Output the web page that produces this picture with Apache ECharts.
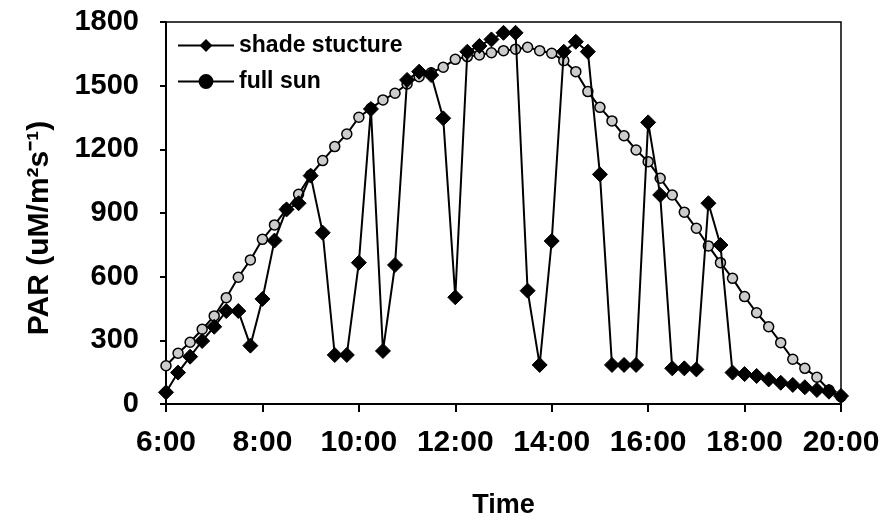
<!DOCTYPE html>
<html>
<head>
<meta charset="utf-8">
<script src="https://cdn.jsdelivr.net/npm/echarts@6/dist/echarts.min.js"></script>
<style>html,body{margin:0;padding:0;background:#fff}#c{width:885px;height:528px}</style>
</head>
<body>
<div id="c"></div>
<script>
const times = ["6:00","6:15","6:30","6:45","7:00","7:15","7:30","7:45","8:00","8:15","8:30","8:45",
"9:00","9:15","9:30","9:45","10:00","10:15","10:30","10:45","11:00","11:15","11:30","11:45",
"12:00","12:15","12:30","12:45","13:00","13:15","13:30","13:45","14:00","14:15","14:30","14:45",
"15:00","15:15","15:30","15:45","16:00","16:15","16:30","16:45","17:00","17:15","17:30","17:45",
"18:00","18:15","18:30","18:45","19:00","19:15","19:30","19:45","20:00"];
const shadeStructure = [55,148,223,297,364,438,438,275,495,770,917,946,
1076,807,231,231,666,1390,250,655,1527,1566,1550,1346,
503,1660,1687,1718,1749,1749,534,184,768,1660,1707,1660,
1082,184,184,184,1327,985,168,168,163,946,749,148,
141,132,116,100,90,79,66,58,38];
const fullSun = [180,239,291,352,415,501,597,679,776,844,918,988,
1079,1147,1213,1272,1351,1393,1433,1464,1508,1542,1561,1587,
1624,1637,1645,1655,1665,1672,1681,1665,1653,1618,1566,1472,
1398,1334,1264,1197,1142,1064,985,904,828,745,666,592,
506,430,364,289,211,168,126,66,34];
const yTicks = {min:0, max:1800, interval:300};

const font = 'Liberation Sans, Arial, sans-serif';
const chart = echarts.init(document.getElementById('c'));
chart.setOption({
  backgroundColor:'#fff',
  animation:false,
  grid:{left:166, right:44, top:22, bottom:124, show:true, borderColor:'#000', borderWidth:1.5},
  legend:{
    orient:'vertical', left:172, top:29, itemWidth:56, itemHeight:16, itemGap:13,
    textStyle:{fontFamily:font, fontWeight:'bold', fontSize:23, color:'#000'},
    data:[{name:'shade stucture'},{name:'full sun', itemStyle:{color:'#000'}}]
  },
  xAxis:{
    type:'category', data:times, boundaryGap:false,
    name:'Time', nameLocation:'middle', nameGap:88,
    nameTextStyle:{fontFamily:font, fontWeight:'bold', fontSize:27, color:'#000'},
    axisLine:{lineStyle:{color:'#000', width:2}},
    axisTick:{show:true, interval:7, length:8, inside:false, lineStyle:{color:'#000', width:2}},
    axisLabel:{interval:7, margin:24, fontFamily:font, fontWeight:'bold', fontSize:30, color:'#000'},
    splitLine:{show:false}
  },
  yAxis:{
    type:'value', min:yTicks.min, max:yTicks.max, interval:yTicks.interval,
    name:'PAR (uM/m²s⁻¹)', nameLocation:'middle', nameGap:111,
    nameTextStyle:{fontFamily:font, fontWeight:'bold', fontSize:30, color:'#000', padding:[0,30,0,0]},
    axisLine:{show:true, lineStyle:{color:'#000', width:2}},
    axisTick:{show:true, length:6, lineStyle:{color:'#000', width:2}},
    axisLabel:{margin:27, fontFamily:font, fontWeight:'bold', fontSize:29, color:'#000',
      formatter:function(v){return String(v);}},
    splitLine:{show:false}
  },
  series:[
    {name:'shade stucture', type:'line', data:shadeStructure, symbol:'diamond', symbolSize:15,
     showAllSymbol:true,
     lineStyle:{color:'#000', width:2}, itemStyle:{color:'#000', borderColor:'#000'}, z:3},
    {name:'full sun', type:'line', data:fullSun, symbol:'circle', symbolSize:10,
     showAllSymbol:true,
     lineStyle:{color:'#000', width:2}, itemStyle:{color:'#ccc', borderColor:'#000', borderWidth:1.5}, z:2}
  ]
});
</script>
</body>
</html>
